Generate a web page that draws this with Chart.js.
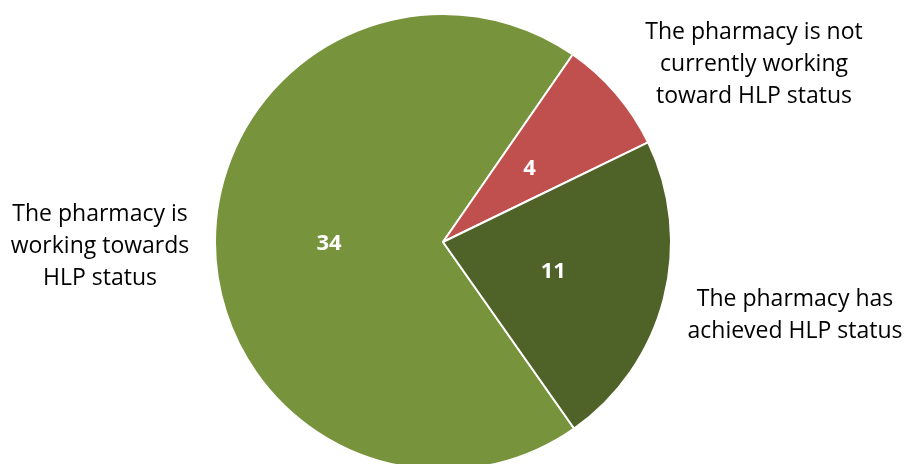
<!DOCTYPE html>
<html>
<head>
<meta charset="utf-8">
<script src="https://cdn.jsdelivr.net/npm/chart.js@4"></script>
<style>
  html, body { margin: 0; padding: 0; background: #fff; overflow: hidden; }
  #wrap { position: relative; width: 905px; height: 480px; }
</style>
</head>
<body>
<div id="wrap"><canvas id="hlp-pie"></canvas></div>
<script>
const categories = [
    "The pharmacy is working towards HLP status",
    "The pharmacy is not currently working toward HLP status",
    "The pharmacy has achieved HLP status"
];
const counts = [34, 4, 11];
const sliceColors = ["#77933C", "#C0504D", "#4F6228"];

// wrapped category text and where each block sits (centre x, first line y)
const labelLines = [
    ["The pharmacy is", "working towards", "HLP status"],
    ["The pharmacy is not", "currently working", "toward HLP status"],
    ["The pharmacy has", "achieved HLP status"]
];
const labelSpots = [
    { x: 100, y: 214 },
    { x: 754, y: 32 },
    { x: 795, y: 299 }
];

const sliceLabels = {
    id: 'sliceLabels',
    afterDatasetsDraw(chart) {
        const { ctx } = chart;
        const meta = chart.getDatasetMeta(0);
        ctx.save();
        ctx.textAlign = 'center';
        ctx.textBaseline = 'middle';

        // values inside each slice, half way out along the middle angle
        ctx.font = 'bold 22px "Open Sans"';
        ctx.fillStyle = '#ffffff';
        meta.data.forEach((arc, i) => {
            const p = arc.getCenterPoint();
            ctx.fillText(String(counts[i]), p.x, p.y + 1);
        });

        // category names outside the pie
        ctx.font = '23px "Open Sans"';
        ctx.fillStyle = '#000000';
        labelLines.forEach((lines, i) => {
            lines.forEach((line, j) => {
                ctx.fillText(line, labelSpots[i].x, labelSpots[i].y + j * 32);
            });
        });
        ctx.restore();
    }
};

new Chart(document.getElementById('hlp-pie'), {
    type: 'pie',
    data: {
        labels: categories,
        datasets: [{
            data: counts,
            backgroundColor: sliceColors,
            borderColor: '#ffffff',
            borderWidth: 2
        }]
    },
    options: {
        responsive: true,
        maintainAspectRatio: false,
        animation: false,
        rotation: 144.9,
        layout: { padding: { top: 13, bottom: 9, left: 0, right: 19 } },
        plugins: {
            legend: { display: false },
            tooltip: { enabled: false }
        }
    },
    plugins: [sliceLabels]
});
</script>
</body>
</html>
